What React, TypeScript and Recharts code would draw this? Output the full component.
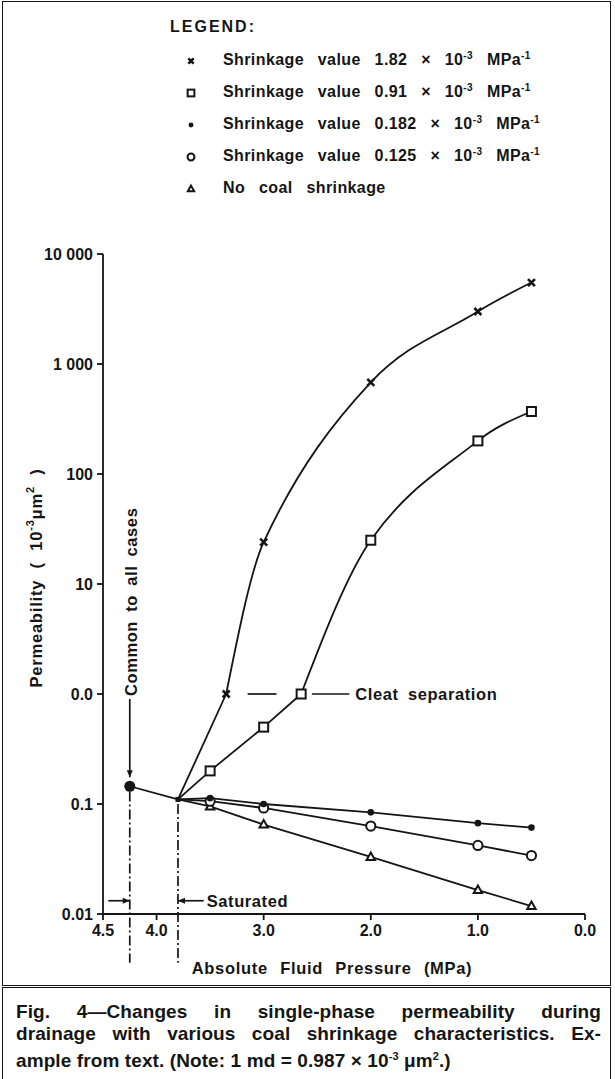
import React from 'react';
import { LineChart, Line, XAxis, YAxis, ReferenceLine } from 'recharts';

const FONT = '"Liberation Sans", Arial, sans-serif';
const INK = '#151515';

// ---------- axes ----------
const pressureTicks = [4.5, 4.0, 3.0, 2.0, 1.0, 0.0];
const pressureTickLabels = ['4.5', '4.0', '3.0', '2.0', '1.0', '0.0'];
const permTicks = [0.01, 0.1, 1, 10, 100, 1000, 10000];
const permTickLabels = ['0.01', '0.1', '0.0', '10', '100', '1 000', '10 000'];

// ---------- series (pressure MPa, permeability 10^-3 um^2) ----------
const commonPressure = [4.25, 3.8];
const commonPerm = [0.145, 0.11];

const pressure182 = [3.8, 3.35, 3.0, 2.0, 1.0, 0.5];
const perm182 = [0.11, 1.0, 24, 680, 3000, 5500];

const pressure091 = [3.8, 3.5, 3.0, 2.65, 2.0, 1.0, 0.5];
const perm091 = [0.11, 0.2, 0.5, 1.0, 25, 200, 370];

const pressure0182 = [3.8, 3.5, 3.0, 2.0, 1.0, 0.5];
const perm0182 = [0.11, 0.113, 0.1, 0.084, 0.067, 0.061];

const pressure0125 = [3.8, 3.5, 3.0, 2.0, 1.0, 0.5];
const perm0125 = [0.11, 0.106, 0.092, 0.063, 0.042, 0.034];

const pressureNone = [3.8, 3.5, 3.0, 2.0, 1.0, 0.5];
const permNone = [0.11, 0.095, 0.065, 0.033, 0.0165, 0.0118];

const legendValues = ['1.82', '0.91', '0.182', '0.125'];

const toPoints = (xs: number[], ys: number[]) => xs.map((p, i) => ({ p, k: ys[i] }));
// split a series at its cleat-separation point (first value >= 1): straight before, curved after
const splitAtCleat = (xs: number[], ys: number[]) => {
  const pts = toPoints(xs, ys);
  const i = ys.findIndex((v) => v >= 1);
  return { straight: pts.slice(0, i + 1), curved: pts.slice(i) };
};

// smooth cubic Hermite curve (central-difference tangents), used as a Recharts curve factory
function smoothCurve(context: any) {
  let xs: number[] = [];
  let ys: number[] = [];
  return {
    areaStart() {},
    areaEnd() {},
    lineStart() {
      xs = [];
      ys = [];
    },
    point(x: number, y: number) {
      xs.push(+x);
      ys.push(+y);
    },
    lineEnd() {
      const n = xs.length;
      if (n === 0) return;
      context.moveTo(xs[0], ys[0]);
      if (n === 1) return;
      if (n === 2) {
        context.lineTo(xs[1], ys[1]);
        return;
      }
      const t: number[] = new Array(n);
      for (let i = 1; i < n - 1; i++) t[i] = (ys[i + 1] - ys[i - 1]) / (xs[i + 1] - xs[i - 1]);
      const s0 = (ys[1] - ys[0]) / (xs[1] - xs[0]);
      t[0] = (3 * s0 - t[1]) / 2;
      const sn = (ys[n - 1] - ys[n - 2]) / (xs[n - 1] - xs[n - 2]);
      t[n - 1] = (3 * sn - t[n - 2]) / 2;
      for (let i = 0; i < n - 1; i++) {
        const h = (xs[i + 1] - xs[i]) / 3;
        context.bezierCurveTo(xs[i] + h, ys[i] + h * t[i], xs[i + 1] - h, ys[i + 1] - h * t[i + 1], xs[i + 1], ys[i + 1]);
      }
    },
  };
}

// ---------- markers ----------
type MK = 'x' | 'square' | 'dot' | 'circle' | 'triangle' | 'bigdot' | 'small';

function Marker({ cx, cy, kind, scale = 1 }: { cx: number; cy: number; kind: MK; scale?: number }) {
  const s = scale;
  switch (kind) {
    case 'x':
      return (
        <path
          d={`M${cx - 3.5 * s},${cy - 3.5 * s}L${cx + 3.5 * s},${cy + 3.5 * s}M${cx + 3.5 * s},${cy - 3.5 * s}L${cx - 3.5 * s},${cy + 3.5 * s}`}
          stroke={INK}
          strokeWidth={2.6}
        />
      );
    case 'square':
      return <rect x={cx - 4.5 * s} y={cy - 4.5 * s} width={9 * s} height={9 * s} fill="#fff" stroke={INK} strokeWidth={2} />;
    case 'dot':
      return <circle cx={cx} cy={cy} r={3.3 * s} fill={INK} />;
    case 'circle':
      return <circle cx={cx} cy={cy} r={4.6 * s} fill="#fff" stroke={INK} strokeWidth={2} />;
    case 'triangle':
      return (
        <path
          d={`M${cx},${cy - 4.5 * s}L${cx + 4.2 * s},${cy + 3 * s}L${cx - 4.2 * s},${cy + 3 * s}Z`}
          fill="#fff"
          stroke={INK}
          strokeWidth={2}
        />
      );
    case 'bigdot':
      return <circle cx={cx} cy={cy} r={5.5} fill={INK} />;
    case 'small':
      return <rect x={cx - 2.5} y={cy - 2.5} width={5} height={5} fill={INK} />;
  }
  return null;
}

const dotFn = (kind: MK, skipFirst = true) => (props: any) => {
  const { cx, cy, index } = props;
  if (skipFirst && index === 0) return <g key={`d${index}`} />;
  return (
    <g key={`d${index}`}>
      <Marker cx={cx} cy={cy} kind={kind} />
    </g>
  );
};

const commonDot = (props: any) => {
  const { cx, cy, index } = props;
  return (
    <g key={`c${index}`}>
      <Marker cx={cx} cy={cy} kind={index === 0 ? 'bigdot' : 'small'} />
    </g>
  );
};

// ---------- annotation shapes ----------
const arrowPath = (x: number, y: number, dir: 'left' | 'right' | 'down', L = 7, W = 3) => {
  if (dir === 'right') return `M${x},${y}L${x - L},${y - W}L${x - L},${y + W}Z`;
  if (dir === 'left') return `M${x},${y}L${x + L},${y - W}L${x + L},${y + W}Z`;
  return `M${x},${y}L${x - W},${y - L}L${x + W},${y - L}Z`;
};

const annoText = { fontFamily: FONT, fontWeight: 700, fontSize: 16.5, fill: INK, letterSpacing: 0.6, wordSpacing: 4 } as const;

const segShape =
  (opts: { arrow?: 'start' | 'end'; dir?: 'left' | 'right' | 'down'; dash?: string; text?: string; textDx?: number; rotText?: string }) =>
  (props: any) => {
    const { x1, y1, x2, y2 } = props;
    const ax = opts.arrow === 'start' ? x1 : x2;
    const ay = opts.arrow === 'start' ? y1 : y2;
    const ty = Math.min(y1, y2) - 3;
    return (
      <g>
        <line x1={x1} y1={y1} x2={x2} y2={y2} stroke={INK} strokeWidth={1.7} strokeDasharray={opts.dash} />
        {opts.arrow && opts.dir && <path d={arrowPath(ax, ay, opts.dir)} fill={INK} />}
        {opts.text && (
          <text x={Math.max(x1, x2) + (opts.textDx ?? 4)} y={y2} dominantBaseline="central" style={annoText}>
            {opts.text}
          </text>
        )}
        {opts.rotText && (
          <text
            x={x1 + 1}
            y={ty}
            transform={`rotate(-90 ${x1 + 1} ${ty})`}
            dominantBaseline="central"
            textAnchor="start"
            style={annoText}
          >
            {opts.rotText}
          </text>
        )}
      </g>
    );
  };

const YTitle = (props: any) => {
  const vb = props.viewBox || { x: 33, y: 254, width: 70, height: 660 };
  const cx = 36;
  const cy = vb.y + vb.height / 2 - 6;
  return (
    <text
      x={cx}
      y={cy}
      transform={`rotate(-90 ${cx} ${cy})`}
      textAnchor="middle"
      dominantBaseline="central"
      style={{ fontFamily: FONT, fontWeight: 700, fontSize: 16.5, fill: INK, letterSpacing: 0.8, wordSpacing: 6 }}
    >
      Permeability ( 10
      <tspan baselineShift="super" fontSize={11}>-3</tspan>
      <tspan>μm</tspan>
      <tspan baselineShift="super" fontSize={11}>2</tspan>
      <tspan> )</tspan>
    </text>
  );
};

const XTitle = (props: any) => {
  const vb = props.viewBox || { x: 103, y: 914, width: 482, height: 60 };
  return (
    <text
      x={vb.x + vb.width / 2 - 12}
      y={968}
      textAnchor="middle"
      dominantBaseline="central"
      style={{ fontFamily: FONT, fontWeight: 700, fontSize: 16.5, fill: INK, letterSpacing: 0.7, wordSpacing: 7 }}
    >
      Absolute Fluid Pressure (MPa)
    </text>
  );
};

const legendKinds: MK[] = ['x', 'square', 'dot', 'circle', 'triangle'];
const legendRowY = [60, 92, 124, 156, 188];

function LegendBlock() {
  const txt = { fontFamily: FONT, fontWeight: 700, fontSize: 16, color: INK } as const;
  return (
    <div style={{ position: 'absolute', left: 0, top: 0 }}>
      <div style={{ ...txt, position: 'absolute', left: 170, top: 17, lineHeight: '20px', letterSpacing: 2, whiteSpace: 'nowrap' }}>
        LEGEND:
      </div>
      {legendKinds.map((k, i) => (
        <div key={k} style={{ position: 'absolute', left: 171, top: legendRowY[i] - 10, height: 20, display: 'flex', alignItems: 'center', whiteSpace: 'nowrap' }}>
          <svg width={40} height={20} style={{ flex: 'none' }}>
            <Marker cx={20} cy={11} kind={k} scale={0.75} />
          </svg>
          <span style={{ ...txt, marginLeft: 12, wordSpacing: 9, letterSpacing: 0.4 }}>
            {i < 4 ? (
              <>
                Shrinkage value {legendValues[i]} × 10<sup style={{ fontSize: 10 }}>-3</sup> MPa
                <sup style={{ fontSize: 10 }}>-1</sup>
              </>
            ) : (
              'No coal shrinkage'
            )}
          </span>
        </div>
      ))}
    </div>
  );
}

export default function App() {
  const axisStyle = { stroke: INK, strokeWidth: 1.8 };
  const tickStyle = { fill: INK, fontSize: 16, fontWeight: 700, fontFamily: FONT };
  const s182 = splitAtCleat(pressure182, perm182);
  const s091 = splitAtCleat(pressure091, perm091);
  const lineCommon = { dataKey: 'k', stroke: INK, strokeWidth: 1.8, activeDot: false, isAnimationActive: false } as const;
  return (
    <div style={{ position: 'absolute', left: 0, top: 0, width: 615, height: 1079, background: '#fff', overflow: 'hidden' }}>
      <div style={{ position: 'absolute', left: 2, top: 1, width: 607, height: 983, border: `1.5px solid ${INK}` }} />
      <div style={{ position: 'absolute', left: 2, top: 987, width: 607, height: 92, border: `1.5px solid ${INK}` }} />
      <LegendBlock />
      <div style={{ position: 'absolute', left: 0, top: 0 }}>
        <LineChart width={615} height={990} margin={{ top: 254, right: 30, bottom: 16, left: 33 }}>
          <XAxis
            type="number"
            dataKey="p"
            domain={[0, 4.5]}
            reversed
            allowDataOverflow
            ticks={pressureTicks}
            interval={0}
            tickFormatter={(v: number) => pressureTickLabels[pressureTicks.indexOf(v)] ?? String(v)}
            height={60}
            axisLine={axisStyle}
            tickLine={axisStyle}
            tickSize={6}
            tickMargin={5}
            tick={tickStyle}
            label={<XTitle />}
          />
          <YAxis
            type="number"
            scale="log"
            domain={[0.01, 10000]}
            allowDataOverflow
            ticks={permTicks}
            interval={0}
            tickFormatter={(v: number) => permTickLabels[permTicks.indexOf(v)] ?? String(v)}
            width={70}
            axisLine={axisStyle}
            tickLine={axisStyle}
            tickSize={6}
            tickMargin={4}
            tick={tickStyle}
            label={<YTitle />}
          />

          {/* dash-dot boundary lines */}
          <ReferenceLine
            segment={[{ x: 4.25, y: 0.13 }, { x: 4.25, y: 0.0036 }]}
            ifOverflow="visible"
            shape={segShape({ dash: '10 3 2 3' })}
          />
          <ReferenceLine
            segment={[{ x: 3.8, y: 0.1 }, { x: 3.8, y: 0.0036 }]}
            ifOverflow="visible"
            shape={segShape({ dash: '10 3 2 3' })}
          />
          {/* Common to all cases */}
          <ReferenceLine
            segment={[{ x: 4.25, y: 0.9 }, { x: 4.25, y: 0.175 }]}
            ifOverflow="visible"
            shape={segShape({ arrow: 'end', dir: 'down', rotText: 'Common to all cases' })}
          />
          {/* range arrows */}
          <ReferenceLine
            segment={[{ x: 4.45, y: 0.0132 }, { x: 4.25, y: 0.0132 }]}
            ifOverflow="visible"
            shape={segShape({ arrow: 'end', dir: 'right' })}
          />
          <ReferenceLine
            segment={[{ x: 3.8, y: 0.0132 }, { x: 3.56, y: 0.0132 }]}
            ifOverflow="visible"
            shape={segShape({ arrow: 'start', dir: 'left', text: 'Saturated', textDx: 3 })}
          />
          {/* cleat separation */}
          <ReferenceLine segment={[{ x: 3.15, y: 1.0 }, { x: 2.88, y: 1.0 }]} ifOverflow="visible" shape={segShape({})} />
          <ReferenceLine
            segment={[{ x: 2.55, y: 1.0 }, { x: 2.2, y: 1.0 }]}
            ifOverflow="visible"
            shape={segShape({ text: 'Cleat separation', textDx: 6 })}
          />

          <Line data={toPoints(pressureNone, permNone)} type="linear" dot={dotFn('triangle')} {...lineCommon} />
          <Line data={toPoints(pressure0125, perm0125)} type="linear" dot={dotFn('circle')} {...lineCommon} />
          <Line data={toPoints(pressure0182, perm0182)} type="linear" dot={dotFn('dot')} {...lineCommon} />
          <Line data={s091.straight} type="linear" dot={dotFn('square')} {...lineCommon} />
          <Line data={s091.curved} type={smoothCurve as any} dot={dotFn('square')} {...lineCommon} />
          <Line data={s182.straight} type="linear" dot={dotFn('x')} {...lineCommon} />
          <Line data={s182.curved} type={smoothCurve as any} dot={dotFn('x')} {...lineCommon} />
          <Line data={toPoints(commonPressure, commonPerm)} type="linear" dot={commonDot} {...lineCommon} />
        </LineChart>
      </div>
      <div
        style={{
          position: 'absolute',
          left: 16,
          top: 1001,
          width: 585,
          fontFamily: FONT,
          fontWeight: 700,
          fontSize: 19,
          lineHeight: '22px',
          letterSpacing: 0.1,
          color: INK,
        }}
      >
        <div style={{ textAlign: 'justify', textAlignLast: 'justify' }}>Fig. 4—Changes in single-phase permeability during</div>
        <div style={{ textAlign: 'justify', textAlignLast: 'justify' }}>drainage with various coal shrinkage characteristics. Ex-</div>
        <div>
          ample from text. (Note: 1 md = 0.987 × 10<sup style={{ fontSize: 11 }}>-3</sup> μm<sup style={{ fontSize: 11 }}>2</sup>.)
        </div>
      </div>
    </div>
  );
}
